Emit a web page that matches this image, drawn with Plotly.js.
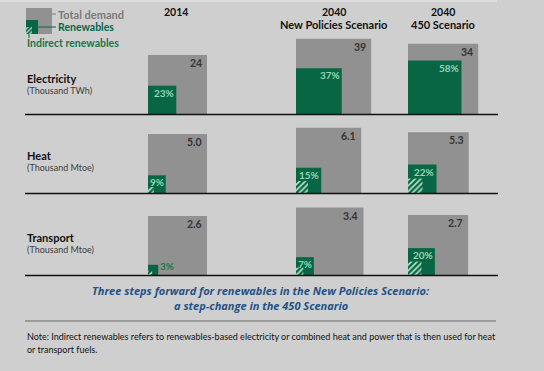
<!DOCTYPE html>
<html>
<head>
<meta charset="utf-8">
<script src="https://cdn.plot.ly/plotly-3.0.1.min.js"></script>
<style>
  html, body { margin: 0; padding: 0; background: #cfcfcf; }
  #chart { width: 544px; height: 371px; }
</style>
</head>
<body>
<div id="chart"></div>
<script>
// ---------- data ----------
const columnYears = ['2014', '2040', '2040'];
const columnScenarios = ['', 'New Policies Scenario', '450 Scenario'];
const sectors = ['Electricity', 'Heat', 'Transport'];
const sectorUnits = ['(Thousand TWh)', '(Thousand Mtoe)', '(Thousand Mtoe)'];

const electricityDemand = [24, 39, 34];
const heatDemand = [5.0, 6.1, 5.3];
const transportDemand = [2.6, 3.4, 2.7];

const electricityDemandLabels = ['24', '39', '34'];
const heatDemandLabels = ['5.0', '6.1', '5.3'];
const transportDemandLabels = ['2.6', '3.4', '2.7'];

// renewables share of total demand (%)
const electricityRenewShare = [23, 37, 58];
const heatRenewShare = [9, 15, 22];
const transportRenewShare = [3, 7, 20];

// indirect renewables share of total demand (%)
const electricityIndirectShare = [0, 0, 0];
const heatIndirectShare = [1.0, 3.4, 5.7];
const transportIndirectShare = [0.5, 1.2, 5.0];

const captionLines = ['Three steps forward for renewables in the New Policies Scenario:',
                      'a step-change in the 450 Scenario'];
const noteLines = ['Note: Indirect renewables refers to renewables-based electricity or combined heat and power that is then used for heat',
                   'or transport fuels.'];

// ---------- layout constants (pixels) ----------
const W = 544, H = 371;
const colLeft = [148, 296, 408];
const rowBaseline = [114, 193, 275];
const baseSide = 59;          // side of the 2014 square in each row
const lineLeft = 25, lineRight = 498;

const GREY = '#919191', GREEN = '#086645', LIGHTGREEN = '#93d7b1', HATCH = '#b9e6cd';
const BG = '#cfcfcf';
const FONT = 'Lato, "Open Sans", sans-serif';

const rows = [
  {demand: electricityDemand, labels: electricityDemandLabels, share: electricityRenewShare, ind: electricityIndirectShare},
  {demand: heatDemand, labels: heatDemandLabels, share: heatRenewShare, ind: heatIndirectShare},
  {demand: transportDemand, labels: transportDemandLabels, share: transportRenewShare, ind: transportIndirectShare}
];

const greyBars = {x: [], y: [], w: [], b: []};
const greenBars = {x: [], y: [], w: [], b: []};
const hatchBars = {x: [], y: [], w: [], b: []};
const annotations = [];
const shapes = [];

rows.forEach((r, ri) => {
  const base = rowBaseline[ri];
  r.demand.forEach((v, ci) => {
    const side = baseSide * Math.sqrt(v / r.demand[0]);
    const left = colLeft[ci];
    greyBars.x.push(left); greyBars.y.push(-side); greyBars.w.push(side); greyBars.b.push(base);
    const gSide = side * Math.sqrt(r.share[ci] / 100);
    greenBars.x.push(left); greenBars.y.push(-gSide); greenBars.w.push(gSide); greenBars.b.push(base);
    if (r.ind[ci] > 0) {
      const hSide = side * Math.sqrt(r.ind[ci] / 100);
      hatchBars.x.push(left); hatchBars.y.push(-hSide); hatchBars.w.push(hSide); hatchBars.b.push(base);
    }
    // total demand label
    annotations.push({x: left + side - 3, y: base - side + 8, xref: 'x', yref: 'y',
      text: '<b>' + r.labels[ci] + '</b>', showarrow: false, xanchor: 'right', yanchor: 'middle',
      font: {family: FONT, size: 10.5, color: '#353535'}});
    // renewables share label
    if (gSide >= 14) {
      annotations.push({x: left + gSide, y: base - gSide + 7, xref: 'x', yref: 'y',
        text: '<b>' + r.share[ci] + '%</b>', showarrow: false, xanchor: 'right', yanchor: 'middle',
        font: {family: FONT, size: 10, color: LIGHTGREEN}});
    } else {
      annotations.push({x: left + gSide, y: base - gSide + 1, xref: 'x', yref: 'y',
        text: '<b>' + r.share[ci] + '%</b>', showarrow: false, xanchor: 'left', yanchor: 'middle',
        font: {family: FONT, size: 10, color: '#157a4c'}});
    }
  });
  // baseline
  shapes.push({type: 'line', xref: 'x', yref: 'y', x0: lineLeft, x1: lineRight, y0: base + 0.5, y1: base + 0.5,
    line: {color: '#111', width: 1.6}});
  // sector labels
  const labY = [78, 155, 237][ri];
  annotations.push({x: lineLeft, y: labY, xref: 'x', yref: 'y', text: '<b>' + sectors[ri] + '</b>',
    showarrow: false, xanchor: 'left', yanchor: 'middle', font: {family: FONT, size: 11, color: '#111'}});
  annotations.push({x: lineLeft, y: labY + 12, xref: 'x', yref: 'y', text: sectorUnits[ri],
    showarrow: false, xanchor: 'left', yanchor: 'middle', font: {family: FONT, size: 9, color: '#3d3d3d'}});
});

// column headers, centred on the electricity squares
columnYears.forEach((yr, ci) => {
  const side = baseSide * Math.sqrt(electricityDemand[ci] / electricityDemand[0]);
  const cx = colLeft[ci] + side / 2 - (ci === 0 ? 2 : 0);
  annotations.push({x: cx, y: 12, xref: 'x', yref: 'y', text: '<b>' + yr + '</b>', showarrow: false,
    xanchor: 'center', yanchor: 'middle', font: {family: FONT, size: 10.5, color: '#111'}});
  if (columnScenarios[ci]) {
    annotations.push({x: cx, y: 24, xref: 'x', yref: 'y', text: '<b>' + columnScenarios[ci] + '</b>', showarrow: false,
      xanchor: 'center', yanchor: 'middle', font: {family: FONT, size: 11, color: '#111'}});
  }
});

// legend keys (drawn as small bars)
const legendTraces = [
  {type: 'bar', x: [26], y: [-26], width: [26], base: [34], offset: 0, marker: {color: GREY, line: {width: 0}}},
  {type: 'bar', x: [26], y: [-14], width: [12], base: [34], offset: 0, marker: {color: GREEN, line: {width: 0}}},
  {type: 'bar', x: [26], y: [-7], width: [6], base: [34], offset: 0,
    marker: {color: GREEN, line: {width: 0}, pattern: {shape: '/', fgcolor: HATCH, bgcolor: GREEN, size: 3, solidity: 0.4, fillmode: 'replace'}}}
];
shapes.push({type: 'line', xref: 'x', yref: 'y', x0: 52, x1: 56, y0: 14, y1: 14, line: {color: '#7a7a7a', width: 1}});
shapes.push({type: 'line', xref: 'x', yref: 'y', x0: 38, x1: 56, y0: 27, y1: 27, line: {color: GREEN, width: 1}});
shapes.push({type: 'line', xref: 'x', yref: 'y', x0: 29, x1: 29, y0: 34, y1: 38, line: {color: GREEN, width: 1}});
annotations.push({x: 56, y: 14, xref: 'x', yref: 'y', text: '<b>Total demand</b>', showarrow: false,
  xanchor: 'left', yanchor: 'middle', font: {family: FONT, size: 11, color: '#7a7a7a'}});
annotations.push({x: 56, y: 27, xref: 'x', yref: 'y', text: '<b>Renewables</b>', showarrow: false,
  xanchor: 'left', yanchor: 'middle', font: {family: FONT, size: 10.5, color: GREEN}});
annotations.push({x: 25, y: 43, xref: 'x', yref: 'y', text: '<b>Indirect renewables</b>', showarrow: false,
  xanchor: 'left', yanchor: 'middle', font: {family: FONT, size: 10.5, color: '#17744b'}});

// top faint line, separator
shapes.push({type: 'line', xref: 'x', yref: 'y', x0: 0, x1: 497, y0: 1, y1: 1, line: {color: '#e2e2e2', width: 1.5}});
shapes.push({type: 'line', xref: 'x', yref: 'y', x0: lineLeft, x1: 496, y0: 321, y1: 321, line: {color: '#8a8a8a', width: 1.5}});

// caption
captionLines.forEach((t, i) => {
  annotations.push({x: 261, y: 290 + i * 15, xref: 'x', yref: 'y', text: '<b><i>' + t + '</i></b>', showarrow: false,
    xanchor: 'center', yanchor: 'middle', font: {family: '"Open Sans", sans-serif', size: 11, color: '#1f5286'}});
});
// note
noteLines.forEach((t, i) => {
  annotations.push({x: lineLeft, y: 336 + i * 13, xref: 'x', yref: 'y', text: t, showarrow: false,
    xanchor: 'left', yanchor: 'middle', font: {family: FONT, size: 9, color: '#111'}});
});

const dataTraces = [
  {type: 'bar', x: greyBars.x, y: greyBars.y, width: greyBars.w, base: greyBars.b, offset: 0,
    marker: {color: GREY, line: {width: 0}}},
  {type: 'bar', x: greenBars.x, y: greenBars.y, width: greenBars.w, base: greenBars.b, offset: 0,
    marker: {color: GREEN, line: {width: 0}}},
  {type: 'bar', x: hatchBars.x, y: hatchBars.y, width: hatchBars.w, base: hatchBars.b, offset: 0,
    marker: {color: GREEN, line: {width: 0},
      pattern: {shape: '/', fgcolor: HATCH, bgcolor: GREEN, size: 4, solidity: 0.4, fillmode: 'replace'}}}
];

const layout = {
  width: W, height: H,
  margin: {l: 0, r: 0, t: 0, b: 0, pad: 0},
  paper_bgcolor: BG, plot_bgcolor: BG,
  barmode: 'overlay',
  showlegend: false,
  xaxis: {range: [0, W], visible: false, fixedrange: true},
  yaxis: {range: [H, 0], visible: false, fixedrange: true},
  shapes: shapes,
  annotations: annotations,
  hovermode: false
};

Plotly.newPlot('chart', dataTraces.concat(legendTraces), layout, {staticPlot: true, displayModeBar: false});
</script>
</body>
</html>
